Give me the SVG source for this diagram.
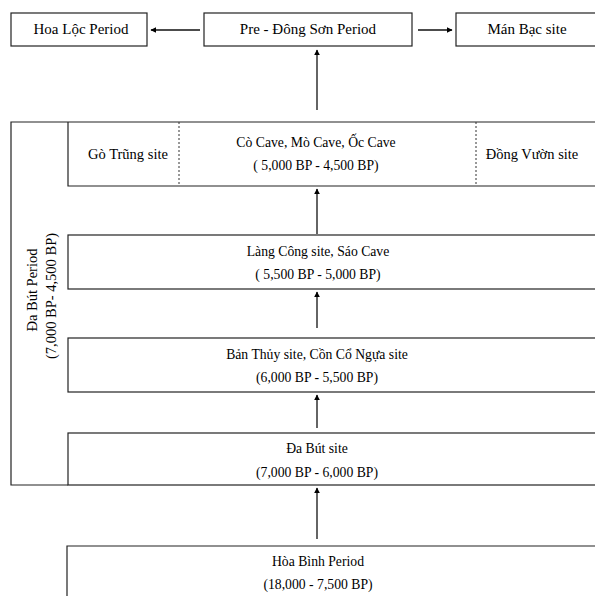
<svg xmlns="http://www.w3.org/2000/svg" width="595" height="596" viewBox="0 0 595 596">
<defs>
<style>
.bx { fill: none; stroke: #222; stroke-width: 1.2; }
.c line { stroke: #111; stroke-width: 1.3; }
.d { stroke: #333; stroke-width: 1; stroke-dasharray: 2 2; }
text { font-family: "Liberation Serif", "Times New Roman", serif; font-size: 14.5px; fill: #000; text-anchor: middle; }
.t { font-size: 15px; }
.m { font-size: 13.7px; }
</style>
<marker id="ah" viewBox="0 0 10 10" refX="9" refY="5" markerWidth="6" markerHeight="7" markerUnits="userSpaceOnUse" orient="auto">
<path d="M0,0 L10,5 L0,10 z" fill="#000"/>
</marker>
</defs>
<rect x="0" y="0" width="595" height="596" fill="#fff"/>

<g id="hoaloc"><rect class="bx" x="11" y="13" width="136" height="33"/><text class="t" x="81" y="34">Hoa Lộc Period</text></g>
<g id="predongson"><rect class="bx" x="204" y="13" width="208" height="33"/><text class="t" x="308" y="34">Pre - Đông Sơn Period</text></g>
<g id="manbac"><rect class="bx" x="456" y="13" width="145" height="33"/><text class="t" x="527" y="34">Mán Bạc site</text></g>

<g id="dabut-period">
<path class="bx" d="M600,122 H11 V485 H68"/>
<text transform="translate(37,290) rotate(-90)">Đa Bút Period</text>
<text transform="translate(56,296) rotate(-90)">(7,000 BP- 4,500 BP)</text>
</g>

<g id="cocave">
<path class="bx" d="M68,122 V186 H600"/>
<line class="d" x1="179" y1="122" x2="179" y2="186"/>
<line class="d" x1="476" y1="122" x2="476" y2="186"/>
<text x="128" y="159">Gò Trũng site</text>
<text class="m" x="316" y="147">Cò Cave, Mò Cave, Ốc Cave</text>
<text class="m" x="316" y="170">( 5,000 BP - 4,500 BP)</text>
<text x="532" y="159">Đồng Vườn site</text>
</g>

<g id="langcong"><rect class="bx" x="68" y="235" width="540" height="54"/><text class="m" x="318" y="256">Làng Công site, Sáo Cave</text><text class="m" x="318" y="279">( 5,500 BP - 5,000 BP)</text></g>
<g id="banthuy"><rect class="bx" x="68" y="338" width="540" height="54"/><text class="m" x="317" y="359">Bản Thủy site, Cồn Cổ Ngựa site</text><text class="m" x="317" y="382">(6,000 BP - 5,500 BP)</text></g>
<g id="dabutsite"><rect class="bx" x="68" y="433" width="540" height="52"/><text class="m" x="317" y="453">Đa Bút site</text><text class="m" x="317" y="477">(7,000 BP - 6,000 BP)</text></g>
<g id="hoabinh"><path class="bx" d="M67,600 V546 H600"/><text class="m" x="318" y="566">Hòa Bình Period</text><text class="m" x="318" y="589">(18,000 - 7,500 BP)</text></g>

<g id="connectors" class="c">
<line x1="200" y1="30" x2="151" y2="30" marker-end="url(#ah)"/>
<line x1="418" y1="30" x2="452" y2="30" marker-end="url(#ah)"/>
<line x1="317" y1="110" x2="317" y2="50" marker-end="url(#ah)"/>
<line x1="317" y1="234" x2="317" y2="189" marker-end="url(#ah)"/>
<line x1="317" y1="328" x2="317" y2="292" marker-end="url(#ah)"/>
<line x1="317" y1="428" x2="317" y2="395" marker-end="url(#ah)"/>
<line x1="317" y1="539" x2="317" y2="488" marker-end="url(#ah)"/>
</g>
</svg>
